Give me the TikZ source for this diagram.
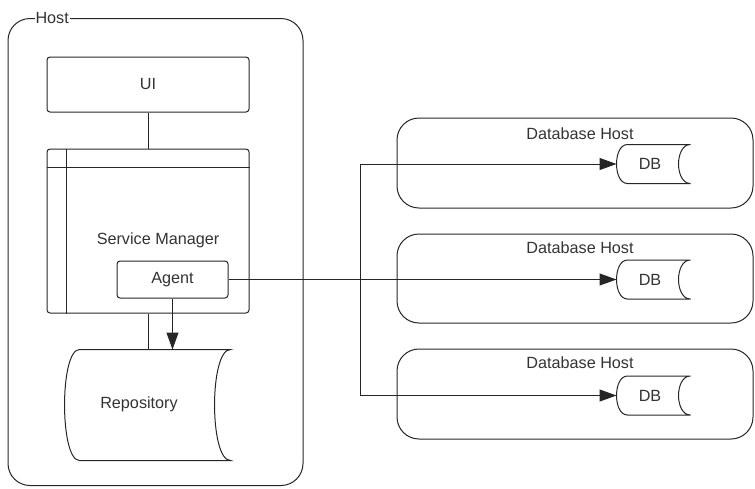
\documentclass[tikz,border=0pt]{standalone}
\usepackage{fontspec}
\setmainfont{Liberation Sans}
\usetikzlibrary{arrows.meta}

% stored data outline round a node: name, left bulge, right bulge
\newcommand{\storedshape}[3]{%
  \draw ([xshift=#2]#1.north west) -- (#1.north east)
    .. controls ([xshift=-1.33*#3]#1.north east) and ([xshift=-1.33*#3]#1.south east) .. (#1.south east)
    -- ([xshift=#2]#1.south west)
    .. controls ([xshift=-0.33*#2]#1.south west) and ([xshift=-0.33*#2]#1.north west) .. ([xshift=#2]#1.north west) -- cycle;}

\tikzset{
  box/.style = {draw, rounded corners = 3pt, inner sep = 0pt},
  hostbox/.style = {draw, rounded corners = 22pt, inner sep = 0pt},
  store/.style = {inner sep = 0pt},
  arr/.style = {-{Triangle[length = 17pt, width = 12pt]}}
}

\begin{document}
\begin{tikzpicture}[x = 1pt, y = -1pt, line width = 1pt, draw = black!85, text = black!80,
  font = \fontsize{16.2}{19}\selectfont]
\useasboundingbox (0, 0) rectangle (755, 488);

% host
\node[hostbox, minimum width = 295pt, minimum height = 467pt] (host) at (155.5, 252) {};
\node[fill = white, inner sep = 1pt, anchor = west] (hostlabel) at (34, 18) {Host};

\node[box, minimum width = 202pt, minimum height = 55pt] (ui) at (148, 84.5) {UI};
\node[box, minimum width = 202pt, minimum height = 164pt] (sm) at (148, 231) {};
\draw ([yshift = -19pt]sm.north west) -- ([yshift = -19pt]sm.north east);
\draw ([xshift = 20pt]sm.north west) -- ([xshift = 20pt]sm.south west);
\node (smlabel) at (158, 240) {Service Manager};
\node[box, fill = white, minimum width = 111pt, minimum height = 37pt] (agent) at (172.5, 279.5) {Agent};

\node[store, minimum width = 165pt, minimum height = 110pt] (repo) at (147.5, 405) {};
\storedshape{repo}{15pt}{16pt}
\node (repolabel) at (139, 404) {Repository};

% database hosts
\node[hostbox, minimum width = 356pt, minimum height = 90pt] (dbh1) at (575, 163) {};
\node[hostbox, minimum width = 356pt, minimum height = 89pt] (dbh2) at (575, 278.5) {};
\node[hostbox, minimum width = 356pt, minimum height = 90pt] (dbh3) at (575, 394) {};
\node (dbhlabel1) at (580, 134) {Database Host};
\node (dbhlabel2) at (580, 248) {Database Host};
\node (dbhlabel3) at (580, 363) {Database Host};

\node[store, minimum width = 73pt, minimum height = 38pt] (db1) at (653.5, 164) {};
\node[store, minimum width = 73pt, minimum height = 38pt] (db2) at (653.5, 279.5) {};
\node[store, minimum width = 73pt, minimum height = 38pt] (db3) at (653.5, 395.5) {};
\storedshape{db1}{11pt}{12pt}
\storedshape{db2}{11pt}{12pt}
\storedshape{db3}{11pt}{12pt}
\node (dblabel1) at (650, 164) {DB};
\node (dblabel2) at (650, 279.5) {DB};
\node (dblabel3) at (650, 395.5) {DB};

% connectors
\draw (ui) -- (sm);
\draw (sm.south) -- (sm.south |- repo.north);
\draw[arr] (agent.south) -- (agent.south |- repo.north);
\draw[arr] (agent.east) -- (db2.west);
\path (agent.east) ++(132, 0) coordinate (split);
\draw[arr] (split) |- (db1.west);
\draw[arr] (split) |- (db3.west);

\end{tikzpicture}
\end{document}
